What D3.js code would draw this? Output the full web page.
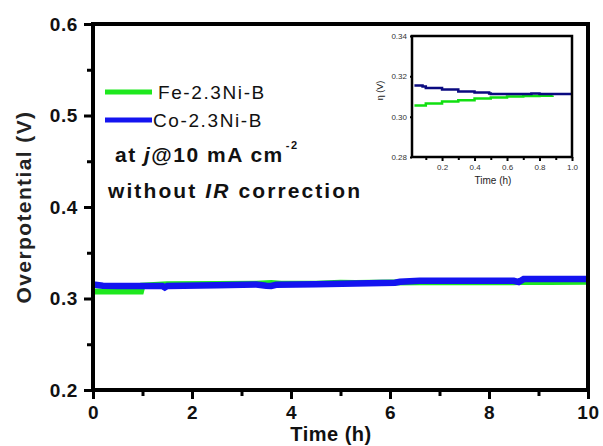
<!DOCTYPE html>
<html>
<head>
<meta charset="utf-8">
<script src="https://cdn.jsdelivr.net/npm/d3@7"></script>
<style>
  body { margin: 0; background: #fff; }
  svg { font-family: Arial, "Liberation Sans", sans-serif; }
</style>
</head>
<body>
<div id="chart"></div>
<script>
// main series (time h, overpotential V)
var feTime = [0, 0.97, 1.0, 1.5, 2.5, 3.3, 3.6, 3.8, 4.5, 5.0, 5.3, 6.0, 6.6, 7.5, 8.5, 8.6, 9.2, 10];
var feVal  = [0.3077, 0.3077, 0.3140, 0.3157, 0.3158, 0.3162, 0.3168, 0.3160, 0.3162, 0.3172, 0.3170, 0.3175, 0.3178, 0.3178, 0.3178, 0.3180, 0.3180, 0.3182];
var coTime = [0, 0.05, 0.2, 0.5, 1.0, 1.4, 1.45, 1.5, 2.5, 3.3, 3.5, 3.6, 3.7, 4.5, 5.3, 6.1, 6.2, 6.6, 7.5, 8.5, 8.6, 8.7, 9.5, 10];
var coVal  = [0.3150, 0.3150, 0.3140, 0.3137, 0.3137, 0.3137, 0.3120, 0.3137, 0.3145, 0.3153, 0.3140, 0.3138, 0.3150, 0.3157, 0.3165, 0.3172, 0.3182, 0.3193, 0.3194, 0.3194, 0.3180, 0.3212, 0.3213, 0.3213];

// inset series
var feInsetTime = [0.03, 0.1, 0.2, 0.3, 0.4, 0.5, 0.6, 0.7, 0.8, 0.88];
var feInsetVal  = [0.3055, 0.3065, 0.3075, 0.3082, 0.3090, 0.3095, 0.3100, 0.3102, 0.3104, 0.3105];
var coInsetTime = [0.03, 0.08, 0.1, 0.2, 0.3, 0.4, 0.49, 0.5, 0.6, 0.7, 0.75, 0.8, 0.9, 1.0];
var coInsetVal  = [0.3155, 0.3150, 0.3142, 0.3135, 0.3125, 0.3120, 0.3115, 0.3113, 0.3113, 0.3113, 0.3115, 0.3113, 0.3112, 0.3112];

var xTicks = [0, 2, 4, 6, 8, 10];
var xMinor = [1, 3, 5, 7, 9];
var yTicks = [0.2, 0.3, 0.4, 0.5, 0.6];
var yMinor = [0.25, 0.35, 0.45, 0.55];
var insetXTicks = [0.2, 0.4, 0.6, 0.8, 1.0];
var insetXMinor = [0.1, 0.3, 0.5, 0.7, 0.9];
var insetYTicks = [0.28, 0.30, 0.32, 0.34];

var seriesNames = ["Fe-2.3Ni-B", "Co-2.3Ni-B"];

var svg = d3.select("#chart").append("svg")
    .attr("width", 603)
    .attr("height", 446);

//////// MAIN PLOT ////////
var x = d3.scaleLinear().domain([0, 10]).range([93, 588]);
var y = d3.scaleLinear().domain([0.2, 0.6]).range([390, 24]);

var line = d3.line()
    .x(function(d) { return x(d[0]); })
    .y(function(d) { return y(d[1]); });

svg.append("path").datum(d3.zip(feTime, feVal))
    .attr("d", line)
    .attr("fill", "none")
    .attr("stroke", "#1ee81e")
    .attr("stroke-width", 6);

svg.append("path").datum(d3.zip(coTime, coVal))
    .attr("d", line)
    .attr("fill", "none")
    .attr("stroke", "#1414f0")
    .attr("stroke-width", 6.5);

// frame
svg.append("rect")
    .attr("x", x(0)).attr("y", y(0.6))
    .attr("width", x(10) - x(0)).attr("height", y(0.2) - y(0.6))
    .attr("fill", "none").attr("stroke", "#000").attr("stroke-width", 4);

// axes
svg.append("g").attr("class", "main")
    .attr("transform", "translate(0," + y(0.2) + ")")
    .call(d3.axisBottom(x).tickValues(xTicks).tickSize(9).tickPadding(7).tickFormat(d3.format("d")));
svg.append("g").attr("class", "main")
    .attr("transform", "translate(0," + y(0.2) + ")")
    .call(d3.axisBottom(x).tickValues(xMinor).tickSize(6).tickFormat(""));

svg.append("g").attr("class", "main")
    .attr("transform", "translate(" + x(0) + ",0)")
    .call(d3.axisLeft(y).tickValues(yTicks).tickSize(9).tickPadding(6).tickFormat(d3.format(".1f")));
svg.append("g").attr("class", "main")
    .attr("transform", "translate(" + x(0) + ",0)")
    .call(d3.axisLeft(y).tickValues(yMinor).tickSize(6).tickFormat(""));

svg.selectAll(".domain").remove();
svg.selectAll(".main .tick line").attr("stroke", "#000").attr("stroke-width", 3);
svg.selectAll(".main .tick text")
    .attr("fill", "#111")
    .style("font-size", "19px")
    .style("font-weight", "bold")
    .style("letter-spacing", "0.6px");

// axis titles
svg.append("text")
    .attr("x", 331).attr("y", 441)
    .attr("text-anchor", "middle")
    .style("font-size", "20px").style("font-weight", "bold")
    .style("letter-spacing", "0.5px")
    .attr("fill", "#111")
    .text("Time (h)");

svg.append("text")
    .attr("transform", "translate(31,207) rotate(-90)")
    .attr("text-anchor", "middle")
    .style("font-size", "21px").style("font-weight", "bold")
    .style("letter-spacing", "1.4px")
    .attr("fill", "#222")
    .text("Overpotential (V)");

// legend
var legendColors = ["#1ee81e", "#1414f0"];
var legend = svg.append("g");
seriesNames.forEach(function(name, i) {
    var ly = 92 + i * 28;
    legend.append("line")
        .attr("x1", 105).attr("x2", 152)
        .attr("y1", ly).attr("y2", ly)
        .attr("stroke", legendColors[i]).attr("stroke-width", 5);
    legend.append("text")
        .attr("x", i == 0 ? 158 : 153).attr("y", ly + 7)
        .style("font-size", "19px")
        .style("letter-spacing", "1.6px")
        .attr("fill", "#111")
        .text(name);
});

var note1 = svg.append("text")
    .attr("x", 115).attr("y", 162)
    .style("font-size", "21px").style("font-weight", "bold")
    .style("letter-spacing", "1.5px")
    .attr("fill", "#111");
note1.append("tspan").text("at ");
note1.append("tspan").style("font-style", "italic").text("j");
note1.append("tspan").text("@10 mA cm");
note1.append("tspan").attr("dx", 2).attr("dy", -13).style("font-size", "11px").text("-2");

var note2 = svg.append("text")
    .attr("x", 108).attr("y", 198)
    .style("font-size", "21px").style("font-weight", "bold")
    .style("letter-spacing", "2.1px")
    .attr("fill", "#111");
note2.append("tspan").text("without ");
note2.append("tspan").style("font-style", "italic").text("IR");
note2.append("tspan").text(" correction");

//////// INSET ////////
var ix = d3.scaleLinear().domain([0.015, 1.0]).range([412, 572]);
var iy = d3.scaleLinear().domain([0.28, 0.34]).range([157, 36]);

var iline = d3.line()
    .x(function(d) { return ix(d[0]); })
    .y(function(d) { return iy(d[1]); })
    .curve(d3.curveStepAfter);

svg.append("path").datum(d3.zip(feInsetTime, feInsetVal))
    .attr("d", iline)
    .attr("fill", "none").attr("stroke", "#10e010").attr("stroke-width", 2.5);
svg.append("path").datum(d3.zip(coInsetTime, coInsetVal))
    .attr("d", iline)
    .attr("fill", "none").attr("stroke", "#0a0a80").attr("stroke-width", 2.5);

svg.append("rect")
    .attr("x", 412).attr("y", 36)
    .attr("width", 160).attr("height", 121)
    .attr("fill", "none").attr("stroke", "#000").attr("stroke-width", 2.5);

svg.append("g").attr("class", "inset")
    .attr("transform", "translate(0,157)")
    .call(d3.axisBottom(ix).tickValues(insetXTicks).tickSize(4).tickPadding(3).tickFormat(d3.format(".1f")));
svg.append("g").attr("class", "inset")
    .attr("transform", "translate(0,157)")
    .call(d3.axisBottom(ix).tickValues(insetXMinor).tickSize(3).tickFormat(""));
svg.append("g").attr("class", "inset")
    .attr("transform", "translate(412,0)")
    .call(d3.axisLeft(iy).tickValues(insetYTicks).tickSize(2).tickPadding(3).tickFormat(d3.format(".2f")));

svg.selectAll(".inset .domain").remove();
svg.selectAll(".inset .tick line").attr("stroke", "#000").attr("stroke-width", 2);
svg.selectAll(".inset .tick text")
    .attr("fill", "#333")
    .style("font-size", "8px")
    .style("font-weight", "normal");

svg.append("text")
    .attr("x", 493).attr("y", 184)
    .attr("text-anchor", "middle")
    .style("font-size", "10px").attr("fill", "#222")
    .text("Time (h)");
svg.append("text")
    .attr("transform", "translate(383," + iy(0.313) + ") rotate(-90)")
    .attr("text-anchor", "middle")
    .style("font-size", "9px").attr("fill", "#222")
    .text("η (V)");
</script>
</body>
</html>
